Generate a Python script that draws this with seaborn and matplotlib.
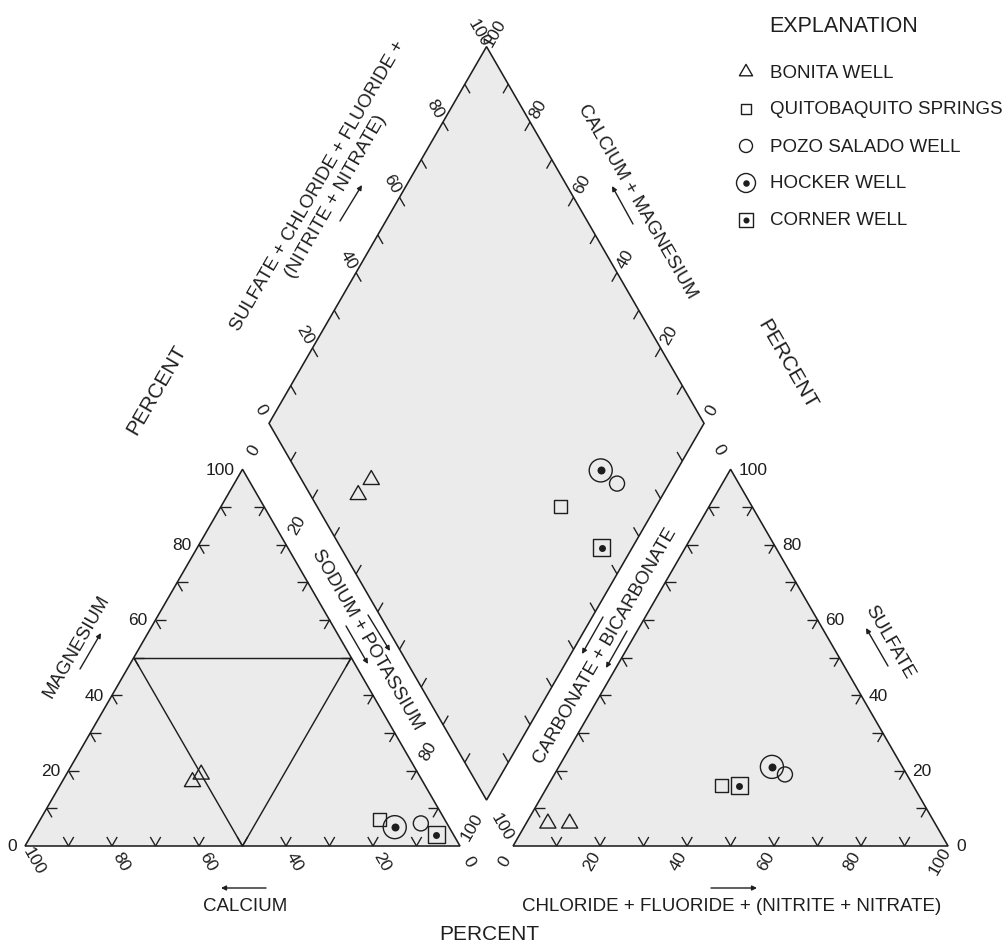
import numpy as np
import pandas as pd
import matplotlib
matplotlib.use("Agg")
import matplotlib.pyplot as plt
from matplotlib.collections import LineCollection
from matplotlib.path import Path
import seaborn as sns

sns.set_theme(style="white")
plt.rcParams["font.family"] = ["Liberation Sans", "DejaVu Sans"]

# ---- samples: percent of total milliequivalents per liter ----
sites = ["BONITA WELL", "BONITA WELL", "QUITOBAQUITO SPRINGS",
         "POZO SALADO WELL", "HOCKER WELL", "CORNER WELL"]
calcium = [53, 50, 15, 6, 12.5, 4]
magnesium = [17, 19, 7, 6, 5, 3]
sodium_potassium = [30, 31, 78, 88, 82.5, 93]
carbonate_bicarbonate = [89, 84, 44, 28, 30, 40]
sulfate = [6, 6, 16, 19, 21, 16]
chloride_fluoride_nitrite_nitrate = [5, 10, 40, 53, 49, 44]

legend_sites = ["BONITA WELL", "QUITOBAQUITO SPRINGS", "POZO SALADO WELL",
                "HOCKER WELL", "CORNER WELL"]
scale_labels = ["0", "20", "40", "60", "80", "100"]

INK = "#1e1e1e"
FILL = "#ebebeb"
LW = 1.15
H = np.sqrt(3) / 2
GAP = 0.122                      # space between the two triangles (side = 1)
XR = 1 + GAP                     # left corner of the anion triangle
B = np.array([1 + GAP / 2, GAP * H])   # bottom corner of the diamond
UR = np.array([0.5, H])
UL = np.array([-0.5, H])
TL = 0.024                       # tick length

# drawing frame: 435 px per unit side, origin at the lower-left corner
PXU, X0, Y0 = 435.0, 25.0, 847.0
W, HPX = 1002, 945


def px(x, y):
    return np.array([(x - X0) / PXU, (Y0 - y) / PXU])


def cation_xy(ca, mg, na):
    ca, mg, na = (np.asarray(v, float) / 100 for v in (ca, mg, na))
    return na + mg / 2, mg * H


def anion_xy(hco3, so4, cl):
    hco3, so4, cl = (np.asarray(v, float) / 100 for v in (hco3, so4, cl))
    return XR + cl + so4 / 2, so4 * H


def diamond_xy(anion_pct, cation_pct):
    s = np.asarray(anion_pct, float) / 100
    c = np.asarray(cation_pct, float) / 100
    return B[0] + s * UR[0] + c * UL[0], B[1] + s * UR[1] + c * UL[1]


fig = plt.figure(figsize=(W / 100, HPX / 100), dpi=100)
fig.patch.set_facecolor("white")
ax = fig.add_axes([0, 0, 1, 1])
ax.set_xlim(-X0 / PXU, (W - X0) / PXU)
ax.set_ylim((Y0 - HPX) / PXU, Y0 / PXU)
ax.set_aspect("equal")
ax.set_axis_off()

# ---- outlines ----
left_tri = np.array([[0, 0], [1, 0], [0.5, H]])
right_tri = left_tri + [XR, 0]
diamond = np.array([B, B + UR, B + UR + UL, B + UL])
for poly in (left_tri, right_tri, diamond):
    ax.fill(poly[:, 0], poly[:, 1], facecolor=FILL, edgecolor=INK, lw=LW,
            joinstyle="miter", zorder=1)

# hydrochemical-facies subdivision of the cation triangle
ax.plot([0.25, 0.75], [H / 2, H / 2], color=INK, lw=LW * 0.9, zorder=2)
ax.plot([0.25, 0.5, 0.75], [H / 2, 0, H / 2], color=INK, lw=LW * 0.9, zorder=2)

# ---- ticks every 10 percent ----
segs = []
steps = np.arange(1, 10) / 10
for x0 in (0.0, XR):
    for t in steps:
        for p, dirs in (((x0 + t, 0), [(-0.5, H), (0.5, H)]),
                        ((x0 + t / 2, t * H), [(1, 0), (0.5, -H)]),
                        ((x0 + 1 - t / 2, t * H), [(-1, 0), (-0.5, -H)])):
            for d in dirs:
                segs.append([p, (p[0] + TL * d[0], p[1] + TL * d[1])])
for t in steps:
    for p, d in ((B + UL + t * UR, -UL), (B + UR + t * UL, -UR),
                 (B + t * UL, UR), (B + t * UR, UL)):
        segs.append([tuple(p), tuple(p + TL * d)])
ax.add_collection(LineCollection(segs, colors=INK, linewidths=LW * 0.85, zorder=2))

# ---- scale numbers ----
NUM = 12.5
vals = np.array([float(v) for v in scale_labels]) / 100


def put(xy, text, rot=0, size=NUM, ha="center", va="center", **kw):
    ax.text(xy[0], xy[1], text, rotation=rot, rotation_mode="anchor",
            ha=ha, va=va, fontsize=size, color=INK, **kw)


d_base, d_side, d_top = 0.039, 0.053, 0.037
for v, lab in zip(vals, scale_labels):
    # magnesium, left side of cation triangle
    put((v / 2 - 0.018, v * H), lab, ha="right")
    # calcium, base of cation triangle (100 at left)
    put(np.array([1 - v, 0]) + d_base * np.array([0.5, -H]), lab, rot=-60)
    # sulfate, right side of anion triangle
    put((XR + 1 - v / 2 + 0.018, v * H), lab, ha="left")
    # chloride, base of anion triangle
    put(np.array([XR + v, 0]) + d_base * np.array([-0.5, -H]), lab, rot=60)
    # diamond upper edges
    put(B + UL + v * UR + d_top * UL, lab, rot=-60)
    put(B + UR + v * UL + d_top * UR, lab, rot=60)
    # sodium + potassium strip (only the ends and 20/80)
    if lab in ("0", "20", "80", "100"):
        put(np.array([1 - (1 - v) / 2, (1 - v) * H]) + d_side * UR, lab, rot=60)
    # carbonate + bicarbonate strip (ends only)
    if lab in ("0", "100"):
        put(np.array([XR + (1 - v) / 2, (1 - v) * H]) + d_side * UL, lab, rot=-60)

# ---- axis titles and arrows ----
TS = 13.5


def arrow(tail, head):
    ax.annotate("", xy=px(*head), xytext=px(*tail),
                arrowprops=dict(arrowstyle="-|>", color=INK, lw=1.0,
                                mutation_scale=7, shrinkA=0, shrinkB=0))


put(px(157, 390), "PERCENT", rot=60, size=15)
put(px(787, 365), "PERCENT", rot=-60, size=15)
put(px(489, 935), "PERCENT", size=15)

put(px(327, 191), "SULFATE + CHLORIDE + FLUORIDE +\n(NITRITE + NITRATE)", rot=60,
    size=TS, linespacing=1.3, multialignment="center")
arrow((340, 222), (362, 186))
put(px(637, 202), "CALCIUM + MAGNESIUM", rot=-60, size=TS)
arrow((633, 225), (612, 187))

put(px(77, 647), "MAGNESIUM", rot=60, size=TS)
arrow((80, 670), (101, 634))
put(px(367, 640), "SODIUM + POTASSIUM", rot=-60, size=TS)
arrow((368, 616), (390, 652))
arrow((346, 627), (368, 665))
put(px(605, 646), "CARBONATE + BICARBONATE", rot=60, size=TS)
arrow((603, 618), (582, 655))
arrow((627, 632), (606, 669))
put(px(890, 642), "SULFATE", rot=-60, size=TS)
arrow((888, 667), (866, 629))

put(px(245, 907), "CALCIUM", size=TS)
arrow((266, 889), (221, 889))
put(px(732, 907), "CHLORIDE + FLUORIDE + (NITRITE + NITRATE)", size=TS)
arrow((711, 889), (757, 889))

# ---- sample markers ----
TRI = Path([(-1, -0.577), (1, -0.577), (0, 1.155), (-1, -0.577)], closed=True)
marks = {
    "BONITA WELL": dict(marker=TRI, s=180, dot=0, ls=120, ldot=0),
    "QUITOBAQUITO SPRINGS": dict(marker="s", s=88, dot=0, ls=52, ldot=0),
    "POZO SALADO WELL": dict(marker="o", s=117, dot=0, ls=88, ldot=0),
    "HOCKER WELL": dict(marker="o", s=275, dot=33, ls=187, ldot=22),
    "CORNER WELL": dict(marker="s", s=150, dot=25, ls=101, ldot=19),
}

cx, cy = cation_xy(calcium, magnesium, sodium_potassium)
axx, ayy = anion_xy(carbonate_bicarbonate, sulfate, chloride_fluoride_nitrite_nitrate)
dx, dy = diamond_xy(np.add(sulfate, chloride_fluoride_nitrite_nitrate),
                    np.add(calcium, magnesium))
pts = pd.concat([
    pd.DataFrame({"x": cx, "y": cy, "site": sites}),
    pd.DataFrame({"x": axx, "y": ayy, "site": sites}),
    pd.DataFrame({"x": dx, "y": dy, "site": sites}),
], ignore_index=True)

for site, sub in pts.groupby("site", sort=False):
    m = marks[site]
    sns.scatterplot(data=sub, x="x", y="y", marker=m["marker"], s=m["s"],
                    facecolor="none", edgecolor=INK, linewidth=1.0,
                    legend=False, ax=ax, zorder=5)
    if m["dot"]:
        sns.scatterplot(data=sub, x="x", y="y", marker="o", s=m["dot"],
                        color=INK, linewidth=0, legend=False, ax=ax, zorder=6)

# ---- explanation ----
ax.text(*px(769, 27), "EXPLANATION", fontsize=15.5, color=INK, ha="left", va="center")
for i, site in enumerate(legend_sites):
    yk = 73 + i * 37
    m = marks[site]
    sx, sy = px(746, yk)
    ax.scatter([sx], [sy], marker=m["marker"], s=m["ls"], facecolor="none",
               edgecolor=INK, linewidth=1.0, zorder=5)
    if m["ldot"]:
        ax.scatter([sx], [sy], marker="o", s=m["ldot"], color=INK, lw=0, zorder=6)
    ax.text(*px(770, yk), site, fontsize=13.5, color=INK, ha="left", va="center")

ax.set_xlim(-X0 / PXU, (W - X0) / PXU)
ax.set_ylim((Y0 - HPX) / PXU, Y0 / PXU)
fig.savefig("out.png", dpi=100, facecolor="white")
